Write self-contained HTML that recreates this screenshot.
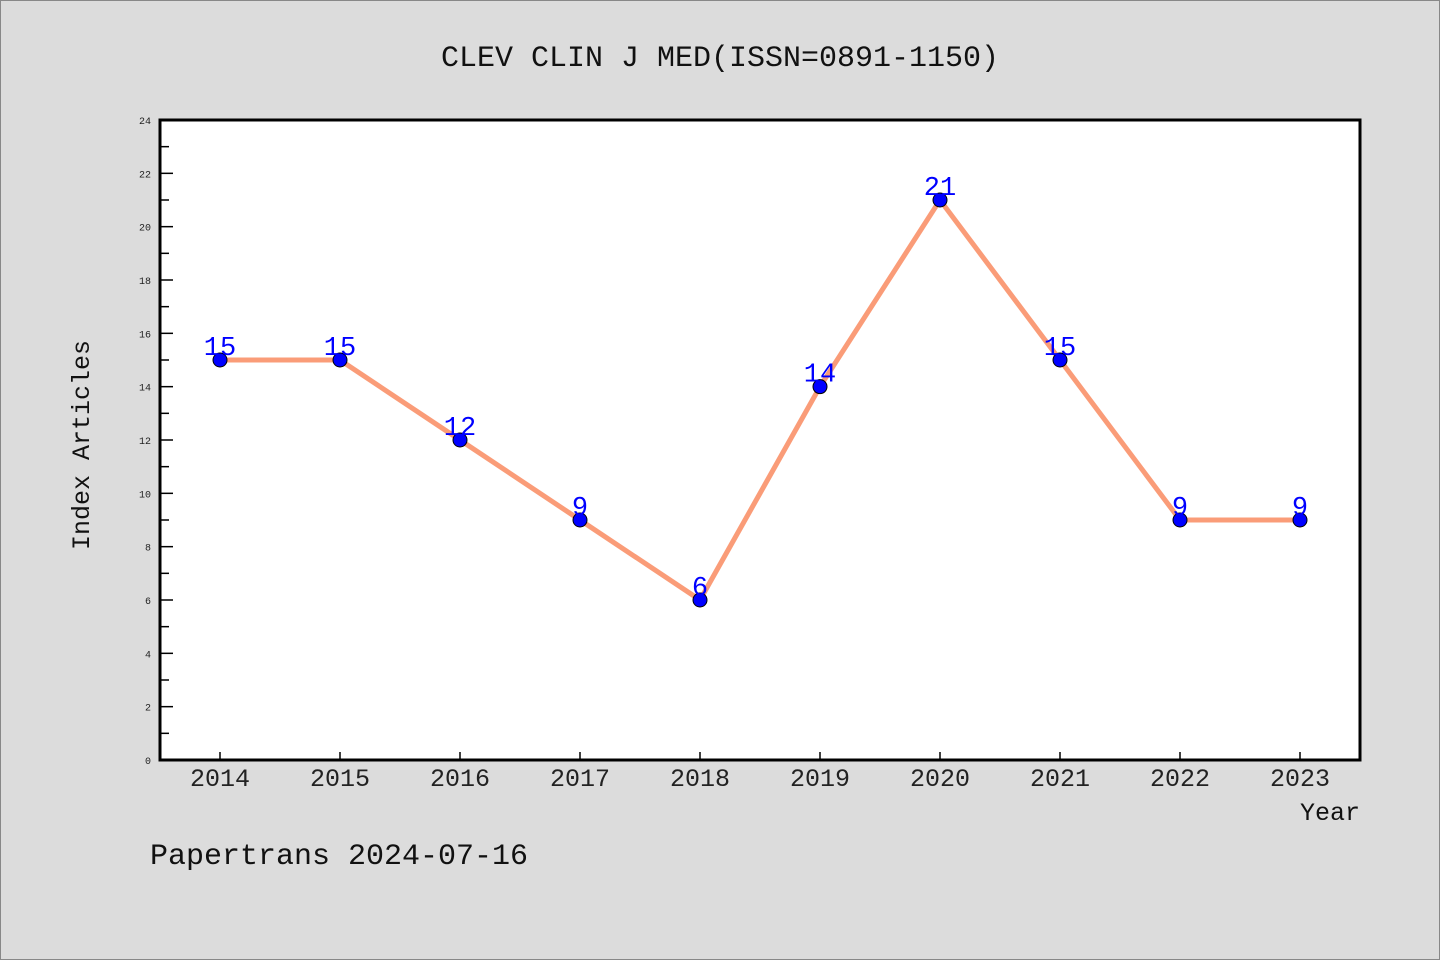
<!DOCTYPE html>
<html><head><meta charset="utf-8"><style>
html,body{margin:0;padding:0;background:#dcdcdc;}
svg{display:block;font-family:"WenQuanYi Zen Hei","Liberation Mono",monospace;}
</style></head><body>
<svg id="chart" width="1440" height="960" xmlns="http://www.w3.org/2000/svg">
<rect x="0.5" y="0.5" width="1439" height="959" fill="#dcdcdc" stroke="#888"/>
<text x="720" y="66" font-size="30" text-anchor="middle" fill="#111">CLEV CLIN J MED(ISSN=0891-1150)</text>
<rect x="160" y="120" width="1200" height="640" fill="#fff" stroke="#000" stroke-width="3"/>
<g id="yticks"></g>
<g id="xticks"></g>
<g id="series"></g>
<text transform="translate(89,445) rotate(-90)" font-size="25" text-anchor="middle" fill="#111">Index Articles</text>
<text x="1360" y="820" font-size="25" text-anchor="end" fill="#111">Year</text>
<text x="150" y="864" font-size="30" fill="#111">Papertrans 2024-07-16</text>
</svg>
<script>
const years = ["2014","2015","2016","2017","2018","2019","2020","2021","2022","2023"];
const counts = [15,15,12,9,6,14,21,15,9,9];
const yTicks = [0,2,4,6,8,10,12,14,16,18,20,22,24];
const NS="http://www.w3.org/2000/svg";
const xs = i => 220 + i*120;
const ys = v => 760 - v*(640/24);
function mk(t,a,p){const e=document.createElementNS(NS,t);for(const k in a)e.setAttribute(k,a[k]);p.appendChild(e);return e;}
const yg=document.getElementById('yticks');
yTicks.forEach(v=>{
  const l=mk('line',{x1:160,x2:173,y1:ys(v),y2:ys(v),stroke:'#000','stroke-width':1.5},yg);
  
  
  const t=mk('text',{x:151,y:ys(v)+4,'font-size':10,'text-anchor':'end',fill:'#222'},yg);
  t.textContent=v;
  
  
  if(v<24){
    const m=mk('line',{x1:160,x2:169,y1:ys(v+1),y2:ys(v+1),stroke:'#000','stroke-width':1.5},yg);
    
    
  }
});
const xg=document.getElementById('xticks');
years.forEach((y,i)=>{
  const l=mk('line',{x1:xs(i),x2:xs(i),y1:752,y2:760,stroke:'#000','stroke-width':1.5},xg);
  
  
  const t=mk('text',{x:xs(i),y:786,'font-size':25,'text-anchor':'middle',fill:'#222'},xg);
  t.textContent=y;
  
  
});
const sg=document.getElementById('series');
const pl=mk('polyline',{points:counts.map((v,i)=>xs(i)+','+ys(v)).join(' '),fill:'none',stroke:'#fa9c78','stroke-width':5},sg);


counts.forEach((v,i)=>{
  const c=mk('circle',{cx:xs(i),cy:ys(v),r:7,fill:'#0000ff',stroke:'#000','stroke-width':1},sg);
  
  
  const t=mk('text',{x:xs(i),y:ys(v)-5,'font-size':27,'text-anchor':'middle',fill:'#0000ff'},sg);
  t.textContent=v;
  
  
});
</script>
</body></html>
